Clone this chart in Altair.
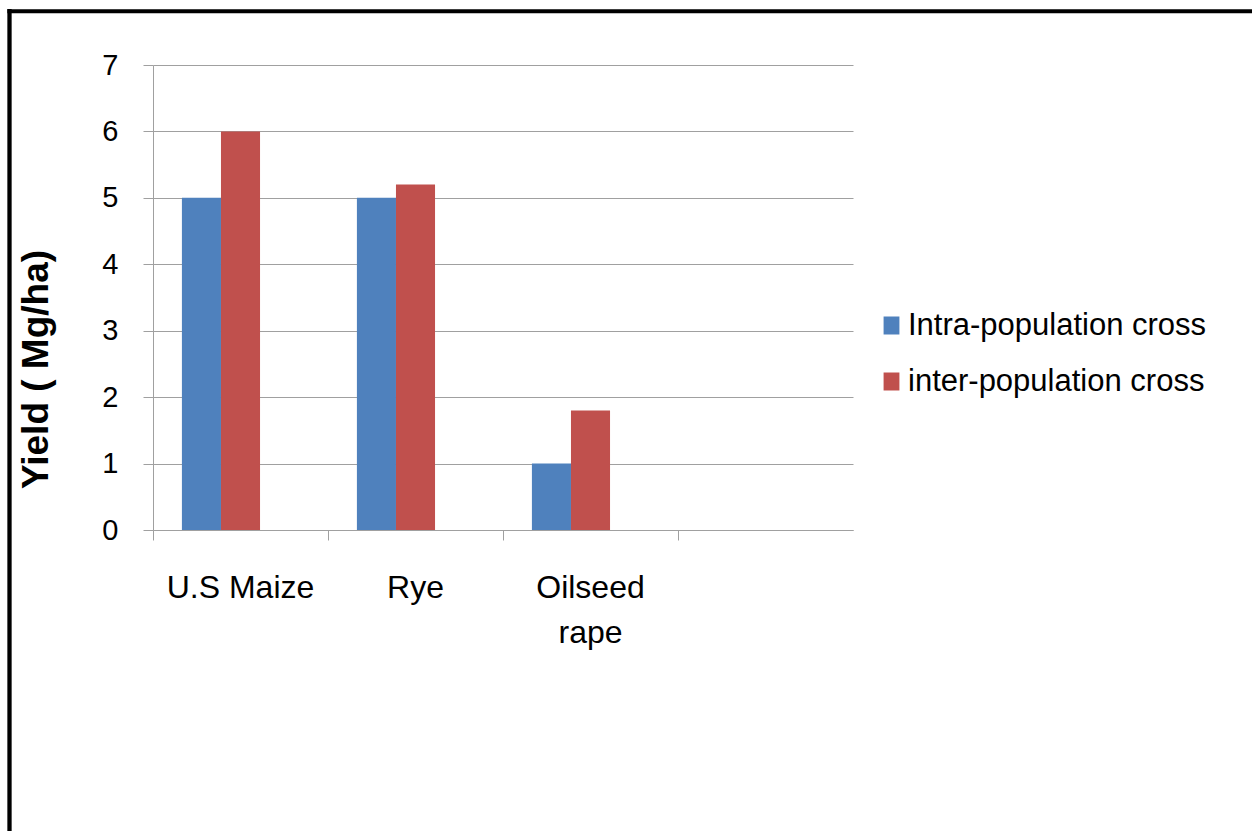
import altair as alt
import pandas as pd

categories = ["U.S Maize", "Rye", "Oilseed rape", " "]
series = ["Intra-population cross", "inter-population cross"]
intra_values = [5.0, 5.0, 1.0]
inter_values = [6.0, 5.2, 1.8]
y_ticks = [0, 1, 2, 3, 4, 5, 6, 7]
colors = ["#4F81BD", "#C0504D"]

rows = []
for c, v in zip(categories[:3], intra_values):
    rows.append({"crop": c, "series": series[0], "yield": v})
for c, v in zip(categories[:3], inter_values):
    rows.append({"crop": c, "series": series[1], "yield": v})
df = pd.DataFrame(rows)

FONT = "Liberation Sans, Arial"
GRID = "#A0A0A0"

bars = alt.Chart(df).mark_bar().encode(
    x=alt.X("crop:N", sort=categories,
            scale=alt.Scale(domain=categories, paddingInner=0, paddingOuter=0),
            axis=alt.Axis(title=None, labelAngle=0, labelFont=FONT, labelFontSize=32,
                          labelColor="#000000", labelPadding=32, tickSize=10,
                          tickColor=GRID, domainColor=GRID, bandPosition=0,
                          labelLineHeight=45, labelBaseline="top",
                          labelExpr="datum.label == 'Oilseed rape' ? ['Oilseed', 'rape'] : datum.label")),
    xOffset=alt.XOffset("series:N",
                        scale=alt.Scale(domain=series + ["_"], paddingInner=0, paddingOuter=0.74)),
    y=alt.Y("yield:Q", scale=alt.Scale(domain=[0, 7], nice=False),
            axis=alt.Axis(values=y_ticks, title="Yield ( Mg/ha)", titleFont=FONT,
                          titleFontWeight="bold", titleFontSize=37, titleColor="#000000",
                          titleX=-117, titleY=304, titleBaseline="middle", titleAngle=270,
                          labelFont=FONT, labelFontSize=29, labelColor="#000000",
                          labelPadding=25, tickSize=10, tickColor=GRID, domainColor=GRID,
                          gridColor=GRID, grid=True)),
    color=alt.Color("series:N", scale=alt.Scale(domain=series, range=colors),
                    legend=alt.Legend(title=None, orient="none", legendX=723, legendY=245,
                                      labelFont=FONT, labelFontSize=31, labelColor="#000000",
                                      symbolType="M-0.88,-1H0.88V1H-0.88Z", symbolSize=324,
                                      symbolStrokeWidth=0, symbolOpacity=1, labelOffset=1,
                                      rowPadding=24, padding=0, labelLimit=500)),
)

frame_left = alt.Chart(pd.DataFrame({"k": [0]})).mark_rule(color="#000000", strokeWidth=4.3).encode(
    x=alt.value(-143.5), y=alt.value(-56), y2=alt.value(766)
)
frame_top = alt.Chart(pd.DataFrame({"k": [0]})).mark_rule(color="#000000", strokeWidth=4).encode(
    x=alt.value(-145.6), x2=alt.value(1099), y=alt.value(-53.7)
)

chart = alt.layer(bars, frame_left, frame_top).properties(
    width=700, height=465,
    autosize=alt.AutoSizeParams(type="none"),
    padding={"left": 153, "top": 65, "right": 399, "bottom": 301},
    background="#FFFFFF",
).configure_view(stroke=None)

chart.save("out.html", embed_options={"renderer": "svg", "actions": False})
